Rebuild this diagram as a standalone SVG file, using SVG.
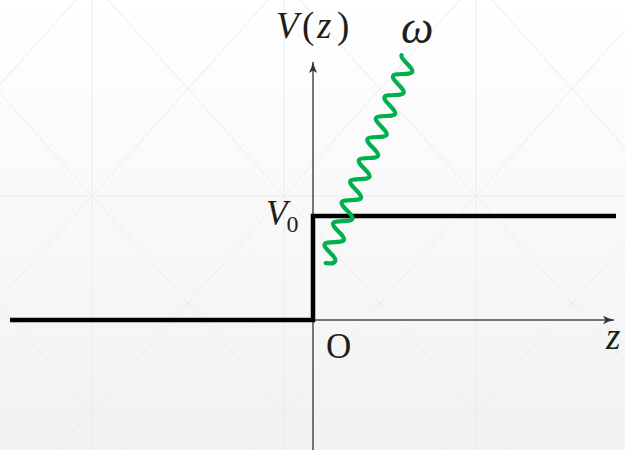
<svg xmlns="http://www.w3.org/2000/svg" width="625" height="450" viewBox="0 0 625 450">
  <defs>
    <linearGradient id="bg" x1="0" y1="0" x2="0" y2="1">
      <stop offset="0" stop-color="#ffffff"/>
      <stop offset="1" stop-color="#f2f2f2"/>
    </linearGradient>
    <marker id="arr" markerWidth="12" markerHeight="10" refX="11" refY="5" orient="auto" markerUnits="userSpaceOnUse">
      <path d="M0,0.8 Q5,3.5 11,5 Q5,6.5 0,9.2 L2.5,5 Z" fill="#333"/>
    </marker>
  </defs>
  <style>
    .grid { stroke: #ebebeb; stroke-width: 1; fill: none; }
    .axis { stroke: #4a4a4a; stroke-width: 1.5; fill: none; }
    .step { stroke: #000; stroke-width: 4.5; fill: none; stroke-linejoin: miter; }
    .wave { stroke: #00b04f; stroke-width: 4.2; fill: none; stroke-linecap: round; stroke-linejoin: round; }
    .lbl { font-family: "Liberation Serif", "DejaVu Serif", serif; fill: #1e1e1e; }
    .it { font-style: italic; }
  </style>

  <g id="background">
    <rect x="0" y="0" width="625" height="450" fill="url(#bg)"/>
    <line class="grid" x1="92" y1="0" x2="92" y2="450"/>
    <line class="grid" x1="284" y1="0" x2="284" y2="450"/>
    <line class="grid" x1="476" y1="0" x2="476" y2="450"/>
    <line class="grid" x1="0" y1="196" x2="625" y2="196"/>
    <line class="grid" x1="0" y1="410" x2="625" y2="410"/>
    <line class="grid" x1="-484" y1="-232" x2="284" y2="624"/>
    <line class="grid" x1="-292" y1="-232" x2="476" y2="624"/>
    <line class="grid" x1="-100" y1="-232" x2="668" y2="624"/>
    <line class="grid" x1="92" y1="-232" x2="860" y2="624"/>
    <line class="grid" x1="284" y1="-232" x2="1052" y2="624"/>
    <line class="grid" x1="284" y1="-232" x2="-484" y2="624"/>
    <line class="grid" x1="476" y1="-232" x2="-292" y2="624"/>
    <line class="grid" x1="668" y1="-232" x2="-100" y2="624"/>
    <line class="grid" x1="860" y1="-232" x2="92" y2="624"/>
    <line class="grid" x1="1052" y1="-232" x2="284" y2="624"/>
  </g>

  <g id="connectors">
    <line id="z-axis" class="axis" x1="313" y1="320" x2="614" y2="320" marker-end="url(#arr)"/>
    <line id="v-axis" class="axis" x1="313" y1="452" x2="313" y2="62" marker-end="url(#arr)"/>
  </g>

  <g id="potential-step">
    <polyline class="step" points="10,320 313,320 313,216 616,216"/>
  </g>

  <g id="photon">
    <path class="wave" transform="translate(400.5,79.25) rotate(112.15)" d="M-22.68,8.1 C-18.56,8.1 -15.46,-8.1 -11.34,-8.1 S-4.12,8.1 0,8.1 S7.22,-8.1 11.34,-8.1 S18.56,8.1 22.68,8.1 S29.9,-8.1 34.02,-8.1 S41.24,8.1 45.36,8.1 S52.58,-8.1 56.7,-8.1 S63.92,8.1 68.04,8.1 S75.26,-8.1 79.38,-8.1 S86.6,8.1 90.72,8.1 S97.94,-8.1 102.06,-8.1 S109.28,8.1 113.4,8.1 S120.62,-8.1 124.74,-8.1 S131.96,8.1 136.08,8.1 S143.3,-8.1 147.42,-8.1 S154.64,8.1 158.76,8.1 S165.98,-8.1 170.1,-8.1 S177.32,8.1 181.44,8.1 S188.66,-8.1 192.78,-8.1 S197.6,-3 198.4,0"/>
  </g>

  <g id="labels">
    <text id="label-Vz" class="lbl" font-size="37" y="38"><tspan class="it" x="276">V</tspan><tspan x="302">(</tspan><tspan class="it" x="317">z</tspan><tspan x="337">)</tspan></text>
    <text id="label-omega" class="lbl it" x="401" y="43" font-size="46" fill="#2a2a2a">ω</text>
    <text id="label-V0" class="lbl" x="266" y="225" font-size="35"><tspan class="it">V</tspan><tspan font-size="24" dx="-1" dy="7">0</tspan></text>
    <text id="label-O" class="lbl" x="326" y="358" font-size="35">O</text>
    <text id="label-z" class="lbl it" x="606" y="349" font-size="37">z</text>
  </g>
</svg>
